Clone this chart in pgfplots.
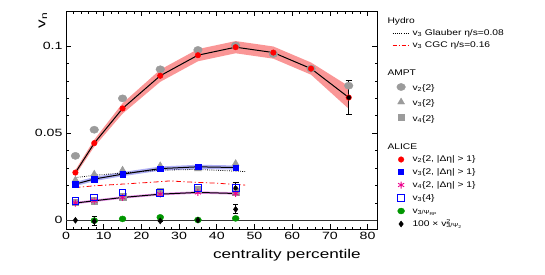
\documentclass[border=0pt]{standalone}
\usepackage{fontspec}
\setmainfont{Liberation Sans}[FakeStretch=1.35]
\newfontfamily\legfont{Liberation Sans}[FakeStretch=1.25]
\usepackage{pgfplots}
\pgfplotsset{compat=1.18}
\definecolor{amptgray}{RGB}{155,155,155}
\definecolor{bandred}{RGB}{250,150,150}
\definecolor{bandblue}{RGB}{175,175,245}
\definecolor{bandmag}{RGB}{235,150,235}
\definecolor{alicegreen}{RGB}{0,150,0}
\begin{document}
\begin{tikzpicture}
\begin{axis}[name=ax, width=311bp, height=217.7bp, scale only axis,
  xmin=0, xmax=82.5, ymin=-0.005, ymax=0.12,
  xtick={0,10,...,80}, ytick={0,0.05,0.1},
  minor x tick num=4, minor y tick num=4,
  tick align=inside, xtick pos=both, ytick pos=both,
  major tick length=5bp, minor tick length=2.5bp,
  axis line style={line width=0.8bp},
  every tick/.style={black, line width=0.6bp},
  scaled y ticks=false,
  /pgf/number format/assume math mode=true,
  yticklabel style={/pgf/number format/fixed, /pgf/number format/precision=2},
  tick label style={font=\fontsize{10.5bp}{12bp}\selectfont},
  xlabel={centrality percentile},
  xlabel style={at={(rel axis cs:0.9486,0)}, anchor=base east, yshift=-29bp, inner sep=0pt, font=\fontsize{12.7bp}{14bp}\selectfont},
  ylabel={v\textsubscript{n}},
  ylabel style={at={(rel axis cs:-0.074,0.995)}, anchor=east, inner sep=0pt, font=\fontsize{12.7bp}{14bp}\selectfont},
  legend style={at={(rel axis cs:1.0482,0.977)}, anchor=north west, draw=none, fill=none,
    font=\legfont\fontsize{8.2bp}{10bp}\selectfont, row sep=2bp, inner sep=0pt,
    nodes={inner ysep=1bp, inner xsep=2.5bp, text height=6.5bp, text depth=2.5bp}},
  legend cell align=left,
]
% zero line
\addplot[forget plot, black!80, line width=0.6bp] coordinates {(0,0)(82.5,0)};
% bands
\addplot[forget plot, fill=bandred, draw=none] coordinates {
(2.5,0.0289)(7.5,0.0463)(15,0.0672)(25,0.0865)(35,0.0983)(45,0.1029)(55,0.0998)(65,0.0906)(75,0.0770)
(75,0.0640)(65,0.0836)(55,0.0928)(45,0.0959)(35,0.0913)(25,0.0795)(15,0.0612)(7.5,0.0423)(2.5,0.0259)} -- cycle;
\addplot[forget plot, fill=bandblue, draw=none] coordinates {
(2.5,0.0220)(7.5,0.0249)(15,0.0277)(25,0.0309)(35,0.0319)(45,0.0315)
(45,0.0291)(35,0.0295)(25,0.0285)(15,0.0253)(7.5,0.0225)(2.5,0.0196)} -- cycle;
\addplot[forget plot, fill=bandmag, draw=none] coordinates {
(2.5,0.0106)(7.5,0.0119)(15,0.0138)(25,0.0157)(35,0.0167)(45,0.0161)
(45,0.0147)(35,0.0153)(25,0.0143)(15,0.0124)(7.5,0.0105)(2.5,0.0092)} -- cycle;
% black lines
\addplot[forget plot, black, line width=1bp] coordinates {(2.5,0.0274)(7.5,0.0443)(15,0.0642)(25,0.0830)(35,0.0948)(45,0.0994)(55,0.0963)(65,0.0871)(75,0.0705)};
\addplot[forget plot, black, line width=1bp] coordinates {(2.5,0.0208)(7.5,0.0237)(15,0.0265)(25,0.0297)(35,0.0307)(45,0.0303)};
\addplot[forget plot, black, line width=1bp] coordinates {(2.5,0.0099)(7.5,0.0112)(15,0.0131)(25,0.0150)(35,0.0160)(45,0.0154)};
% AMPT
\addplot[forget plot, only marks, mark=*, mark size=3.6bp, mark options={xscale=1.2, amptgray, fill=amptgray}] coordinates {(2.5,0.0370)(7.5,0.0520)(15,0.0700)(25,0.0867)(35,0.0978)(45,0.1004)(55,0.0955)(65,0.0871)(75,0.0773)};
\addplot[forget plot, only marks, mark=triangle*, mark size=4bp, mark options={amptgray, fill=amptgray}] coordinates {(2.5,0.0231)(7.5,0.0265)(15,0.0288)(25,0.0313)(35,0.0295)(45,0.0326)};
\addplot[forget plot, only marks, mark=square*, mark size=3.2bp, mark options={amptgray, fill=amptgray}] coordinates {(2.5,0.0103)(7.5,0.0112)(15,0.0135)(25,0.0165)(35,0.0178)(45,0.0165)};
% Hydro
\addplot[forget plot, black, line width=0.8bp, dash pattern=on 0.8bp off 1.4bp] coordinates {(2.5,0.0245)(7.5,0.0258)(15,0.0272)(25,0.0288)(35,0.0292)(47.5,0.0280)};
\addplot[forget plot, red, line width=0.8bp, dash pattern=on 5bp off 2.5bp on 1.2bp off 2.5bp] coordinates {(2.5,0.0188)(7.5,0.0198)(15,0.0208)(22.5,0.0218)(27.5,0.0226)(32.5,0.0220)(40,0.0213)(47.5,0.0202)};
% ALICE
\addplot[forget plot, only marks, mark=*, mark size=2.8bp, mark options={red, fill=red}] coordinates {(2.5,0.0274)(7.5,0.0443)(15,0.0642)(25,0.0830)(35,0.0948)(45,0.0994)(55,0.0963)(65,0.0871)(75,0.0705)};
\addplot[forget plot, only marks, mark=square*, mark size=2.8bp, mark options={blue, fill=blue}] coordinates {(2.5,0.0208)(7.5,0.0237)(15,0.0265)(25,0.0297)(35,0.0307)(45,0.0303)};
\addplot[forget plot, only marks, mark=asterisk, mark size=3.5bp, mark options={magenta, line width=0.9bp}] coordinates {(2.5,0.0099)(7.5,0.0112)(15,0.0131)(25,0.0150)(35,0.0160)(45,0.0154)};
\addplot[forget plot, only marks, mark=square, mark size=3.4bp, mark options={blue, line width=0.9bp}] coordinates {(2.5,0.0112)(7.5,0.0131)(15,0.0160)(25,0.0158)(35,0.0188)(45,0.0185)};
\addplot[forget plot, only marks, mark=*, mark size=3bp, mark options={xscale=1.15, alicegreen, fill=alicegreen}] coordinates {(7.5,-0.0002)(15,0.0008)(25,0.0017)(35,0.0002)(45,0.0011)};
\addplot[forget plot, only marks, mark=diamond*, mark size=3bp, mark options={black, fill=black},
  error bars/.cd, y dir=both, y explicit, error bar style={black, line width=0.9bp}, error mark options={rotate=90, mark size=2.5bp, black, line width=0.9bp}]
  coordinates {(2.5,0) +- (0,0) (7.5,-0.0006) +- (0,0.0026) (25,-0.0004) +- (0,0) (35,0.0001) +- (0,0) (45,0.0063) +- (0,0.0026)};
% error bars
\addplot[forget plot, black, only marks, mark=none, error bars/.cd, y dir=both, y explicit, error bar style={black, line width=1bp}, error mark options={rotate=90, mark size=3bp, black, line width=1bp}]
  coordinates {(75,0.0705) +- (0,0.0095) (45,0.0185) +- (0,0.003)};
% legend
\addlegendimage{empty legend}\addlegendentry[text height=5.5bp]{\hspace*{-25bp}Hydro}
\addlegendimage{black, line width=0.8bp, dash pattern=on 0.8bp off 1.4bp}\addlegendentry[text height=5.5bp]{v\textsubscript{3} Glauber η/s=0.08}
\addlegendimage{red, line width=0.8bp, dash pattern=on 4bp off 2bp on 1bp off 2bp}\addlegendentry[text height=5.5bp]{v\textsubscript{3} CGC η/s=0.16}
\addlegendimage{empty legend}\addlegendentry[text height=8bp]{}
\addlegendimage{empty legend}\addlegendentry[text height=7bp]{\hspace*{-25bp}AMPT}
\addlegendimage{only marks, mark=*, mark size=3.6bp, mark options={xscale=1.2, amptgray, fill=amptgray}}\addlegendentry[text height=8.5bp]{v\textsubscript{2}\{2\}}
\addlegendimage{only marks, mark=triangle*, mark size=4bp, mark options={amptgray, fill=amptgray}}\addlegendentry[text height=8.5bp]{v\textsubscript{3}\{2\}}
\addlegendimage{only marks, mark=square*, mark size=3bp, mark options={amptgray, fill=amptgray}}\addlegendentry[text height=9.5bp]{v\textsubscript{4}\{2\}}
\addlegendimage{empty legend}\addlegendentry[text height=8bp]{}
\addlegendimage{empty legend}\addlegendentry[text height=7bp]{\hspace*{-25bp}ALICE}
\addlegendimage{only marks, mark=*, mark size=2.8bp, mark options={red, fill=red}}\addlegendentry[text height=5.5bp]{v\textsubscript{2}\{2, |Δη| > 1\}}
\addlegendimage{only marks, mark=square*, mark size=2.5bp, mark options={blue, fill=blue}}\addlegendentry{v\textsubscript{3}\{2, |Δη| > 1\}}
\addlegendimage{only marks, mark=asterisk, mark size=3.5bp, mark options={magenta, line width=0.9bp}}\addlegendentry{v\textsubscript{4}\{2, |Δη| > 1\}}
\addlegendimage{only marks, mark=square, mark size=3.4bp, mark options={blue, line width=0.9bp}}\addlegendentry{v\textsubscript{3}\{4\}}
\addlegendimage{only marks, mark=*, mark size=3bp, mark options={xscale=1.15, alicegreen, fill=alicegreen}}\addlegendentry{v\textsubscript{3/Ψ\textsubscript{RP}}}
\addlegendimage{only marks, mark=diamond*, mark size=3bp, mark options={black, fill=black}}\addlegendentry{100 × v\rlap{\textsuperscript{2}}\textsubscript{3/Ψ\textsubscript{2}}}
\end{axis}
\pgfresetboundingbox
\path[use as bounding box] ([shift={(-66bp,-45.3bp)}]ax.south west) rectangle ([shift={(168bp,11.3bp)}]ax.north east);
\end{tikzpicture}
\end{document}
